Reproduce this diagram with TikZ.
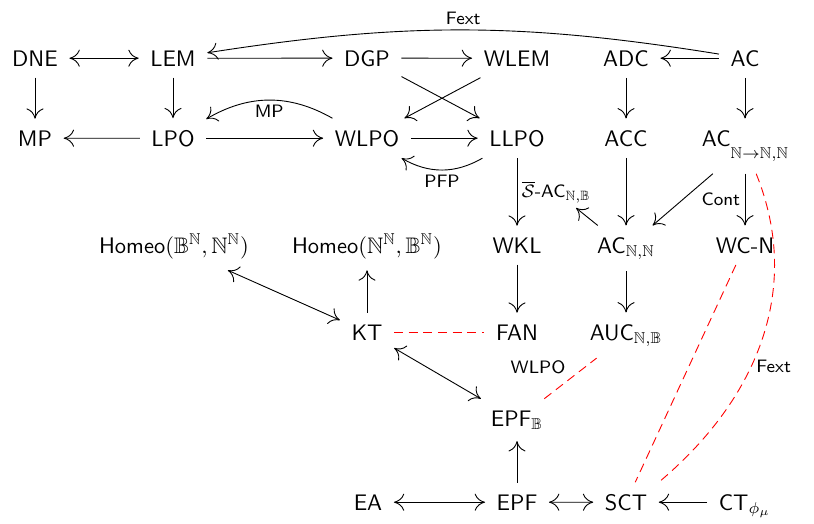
\documentclass[tikz,border=0pt]{standalone}
\usepackage{amsmath, amssymb}
\usetikzlibrary{arrows.meta}
\tikzset{prop/.style={anchor=base, inner sep=5pt, font=\sffamily}}
\tikzset{tip/.tip={Computer Modern Rightarrow[length=4.6pt,width=7.6pt]}}
\tikzset{imp/.style={-tip}}
\tikzset{biimp/.style={tip-tip}}
\tikzset{weak/.style={red, dash pattern=on 4pt off 2.5pt}}
\tikzset{edgelabel/.style={font=\sffamily\footnotesize, inner sep=2pt, text=black}}

\begin{document}
\begin{tikzpicture}[x=0.445pt, y=0.445pt]

\useasboundingbox (0,0) rectangle (814,-523);

% first row
\node[prop] (dne) at (35,-66) {DNE};
\node[prop] (lem) at (173,-66) {LEM};
\node[prop] (dgp) at (367,-66) {DGP};
\node[prop] (wlem) at (517,-66) {WLEM};
\node[prop] (adc) at (626,-66) {ADC};
\node[prop] (ac) at (745,-66) {AC};

% second row
\node[prop] (mp) at (35,-146) {MP};
\node[prop] (lpo) at (173,-146) {LPO};
\node[prop] (wlpo) at (367,-146) {WLPO};
\node[prop] (llpo) at (517,-146) {LLPO};
\node[prop] (acc) at (626,-146) {ACC};
\node[prop] (acfun) at (745,-146) {AC\raisebox{-1.3ex}{$\scriptstyle\mathbb{N}\to\mathbb{N},\mathbb{N}$}};

% third row
\node[prop] (homeoB) at (174,-253) {Homeo$(\mathbb{B}^{\mathbb{N}},\mathbb{N}^{\mathbb{N}})$};
\node[prop] (homeoN) at (367,-253) {Homeo$(\mathbb{N}^{\mathbb{N}},\mathbb{B}^{\mathbb{N}})$};
\node[prop] (wkl) at (517,-253) {WKL};
\node[prop] (acnn) at (626,-253) {AC$_{\mathbb{N},\mathbb{N}}$};
\node[prop] (wcn) at (745,-253) {WC-N};

% fourth and fifth row
\node[prop] (kt) at (367,-340) {KT};
\node[prop] (fan) at (517,-340) {FAN};
\node[prop] (auc) at (626,-340) {AUC$_{\mathbb{N},\mathbb{B}}$};
\node[prop] (epfb) at (517,-426) {EPF$_{\mathbb{B}}$};

% last row
\node[prop] (ea) at (368,-510) {EA};
\node[prop] (epf) at (517,-510) {EPF};
\node[prop] (sct) at (626,-510) {SCT};
\node[prop] (ct) at (745,-510) {CT$_{\phi_\mu}$};

% implications
\draw[biimp] (dne) -- (lem);
\draw[imp] (lem) -- (dgp);
\draw[imp] (dgp) -- (wlem);
\draw[imp] (ac) -- (adc);
\draw[imp] (ac) to[bend right=9] node[above, edgelabel] {Fext} (lem);
\draw[imp] (dne) -- (mp);
\draw[imp] (lem) -- (lpo);
\draw[imp] (dgp) -- (llpo);
\draw[imp] (wlem) -- (wlpo);
\draw[imp] (adc) -- (acc);
\draw[imp] (ac) -- (acfun);
\draw[imp] (lpo) -- (mp);
\draw[imp] (lpo) -- (wlpo);
\draw[imp] (wlpo) -- (llpo);
\draw[imp] (wlpo) to[bend right=30] node[below, edgelabel] {MP} (lpo);
\draw[imp] (llpo) to[bend left=30] node[below, edgelabel] {PFP} (wlpo);
\draw[imp] (llpo) -- node[right, edgelabel] (sac) {$\overline{\mathcal{S}}$-AC$_{\mathbb{N},\mathbb{B}}$} (wkl);
\draw[imp] (acc) -- (acnn);
\draw[imp] (acfun) -- (acnn);
\draw[imp] (acfun) -- node[left, edgelabel] {Cont} (wcn);
\draw[imp] (acnn) -- (sac);
\draw[imp] (wkl) -- (fan);
\draw[imp] (acnn) -- (auc);
\draw[biimp] (homeoB) -- (kt);
\draw[imp] (kt) -- (homeoN);
\draw[biimp] (kt) -- (epfb);
\draw[imp] (epf) -- (epfb);
\draw[biimp] (ea) -- (epf);
\draw[biimp] (epf) -- (sct);
\draw[imp] (ct.west |- sct.center) -- (sct);

% non-implications
\draw[weak] (kt) -- (fan);
\draw[weak] (epfb) -- node[above left, edgelabel] {WLPO} (auc);
\draw[weak] (wcn) -- (sct);
\draw[weak] (acfun) to[out=-68, in=40] node[pos=0.58, right, edgelabel] {Fext} (sct.north east);

\end{tikzpicture}
\end{document}
